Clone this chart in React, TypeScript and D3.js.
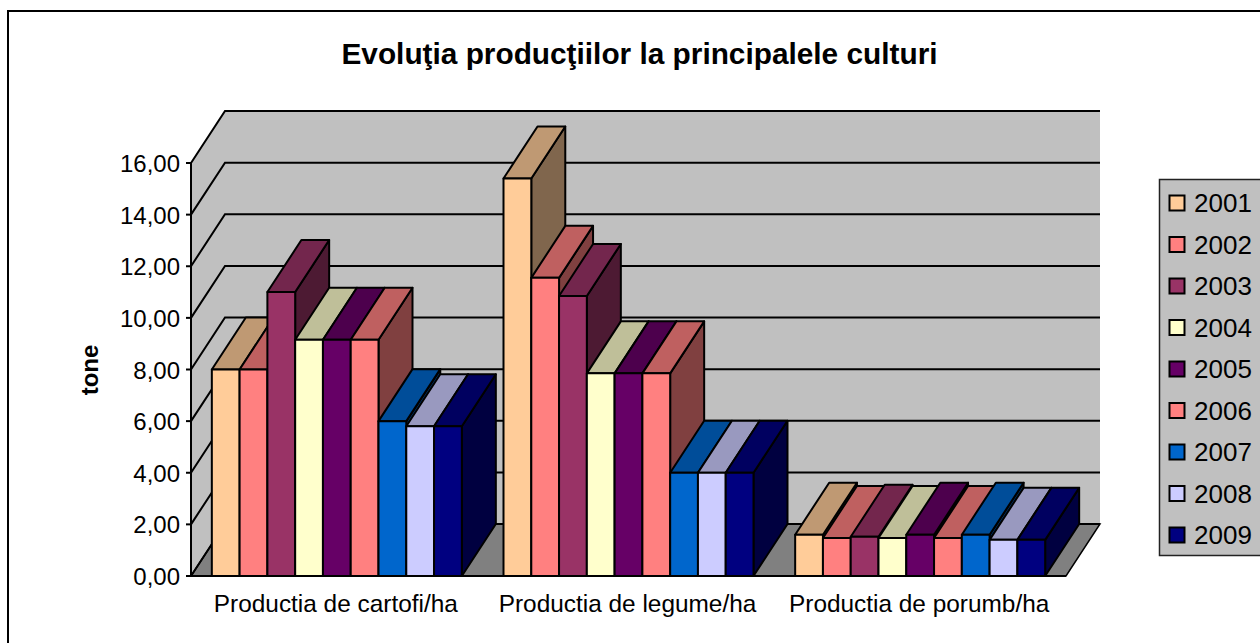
import React from "react";
import * as d3 from "d3";

const title = "Evoluţia producţiilor la principalele culturi";
const yAxisTitle = "tone";
const categories = ["Productia de cartofi/ha", "Productia de legume/ha", "Productia de porumb/ha"];
const years = ["2001", "2002", "2003", "2004", "2005", "2006", "2007", "2008", "2009"];
const colors = ["#FFCC99", "#FF8080", "#993366", "#FFFFCC", "#660066", "#FF8080", "#0066CC", "#CCCCFF", "#000080"];
const cartofi = [8.0, 8.0, 11.0, 9.15, 9.15, 9.15, 6.0, 5.8, 5.8];
const legume = [15.4, 11.55, 10.85, 7.85, 7.85, 7.85, 4.0, 4.0, 4.0];
const porumb = [1.6, 1.47, 1.52, 1.47, 1.6, 1.47, 1.6, 1.4, 1.4];
const seriesByCategory = [cartofi, legume, porumb];
const yTicks = [0, 2, 4, 6, 8, 10, 12, 14, 16];

const FONT = "'Liberation Sans', Arial, sans-serif";
const DX = 34;
const DY = -52;

export default function App() {
  const y = d3.scaleLinear().domain([0, 16]).range([576, 163]);
  const x0 = d3.scaleBand().domain(categories).range([191, 1066]);
  const inner = d3
    .scaleBand()
    .domain(years)
    .range([0, x0.bandwidth()])
    .paddingInner(0)
    .paddingOuter(0.75);
  const poly = (pts: [number, number][]) => pts.map((p) => p.join(",")).join(" ");
  const shade = (c: string, k: number) => {
    const r = d3.rgb(c);
    return d3.rgb(r.r * k, r.g * k, r.b * k).formatHex();
  };
  const L = 191;
  const R = 1066;
  const B = y(0);
  const T = y(16);
  const legendY = d3.scalePoint().domain(years).range([203, 535]);

  return (
    <svg
      width={1260}
      height={643}
      style={{ position: "absolute", left: 0, top: 0, background: "#fff", fontFamily: FONT }}
    >
      <rect x={8} y={11} width={1300} height={700} fill="#fff" stroke="#000" strokeWidth={2} />
      <text x={639.5} y={64} textAnchor="middle" fontSize={29.8} fontWeight="bold" fill="#000">
        {title}
      </text>

      {/* walls and floor */}
      <polygon points={poly([[L, T], [L + DX, T + DY], [R + DX, T + DY], [R + DX, B + DY], [L + DX, B + DY], [L, B]])} fill="#C0C0C0" />
      <polygon points={poly([[L, B], [L + DX, B + DY], [R + DX, B + DY], [R, B]])} fill="#808080" stroke="#000" strokeWidth={1.5} />
      {yTicks.map((t) => (
        <g key={t} stroke="#000" strokeWidth={2} fill="none">
          <polyline points={poly([[L, y(t)], [L + DX, y(t) + DY], [R + DX, y(t) + DY]])} />
          <line x1={L - 5} x2={L} y1={y(t)} y2={y(t)} />
        </g>
      ))}
      <line x1={L} x2={L} y1={T} y2={B} stroke="#000" strokeWidth={2} />
      <line x1={L} x2={R} y1={B} y2={B} stroke="#000" strokeWidth={2} />
      {yTicks.map((t) => (
        <text key={t} x={180} y={y(t) + 9} textAnchor="end" fontSize={24} fill="#000">
          {d3.format(".2f")(t).replace(".", ",")}
        </text>
      ))}
      <text transform="translate(98,370) rotate(-90)" textAnchor="middle" fontSize={24} fontWeight="bold" fill="#000">
        {yAxisTitle}
      </text>

      {/* bars */}
      {categories.map((cat, ci) =>
        years.map((yr, si) => {
          const x1 = (x0(cat) as number) + (inner(yr) as number);
          const x2 = x1 + inner.bandwidth();
          const top = y(seriesByCategory[ci][si]);
          const c = colors[si];
          return (
            <g key={cat + yr} stroke="#000" strokeWidth={2} strokeLinejoin="round">
              <polygon points={poly([[x2, top], [x2 + DX, top + DY], [x2 + DX, B + DY], [x2, B]])} fill={shade(c, 0.5)} />
              <polygon points={poly([[x1, top], [x1 + DX, top + DY], [x2 + DX, top + DY], [x2, top]])} fill={shade(c, 0.75)} />
              <rect x={x1} y={top} width={x2 - x1} height={B - top} fill={c} />
            </g>
          );
        })
      )}
      {categories.map((cat) => (
        <text key={cat} x={(x0(cat) as number) + x0.bandwidth() / 2 - 1} y={612} textAnchor="middle" fontSize={24.4} fill="#000">
          {cat}
        </text>
      ))}

      {/* legend */}
      <rect x={1159.5} y={179.5} width={105} height={376} fill="#C0C0C0" stroke="#222" strokeWidth={1.5} />
      {years.map((yr, i) => {
        const cy = legendY(yr) as number;
        return (
          <g key={yr}>
            <rect x={1169.5} y={cy - 7.5} width={15} height={15} fill={colors[i]} stroke="#000" strokeWidth={2} />
            <text x={1194} y={cy + 9} fontSize={26} fill="#000">
              {yr}
            </text>
          </g>
        );
      })}
    </svg>
  );
}
